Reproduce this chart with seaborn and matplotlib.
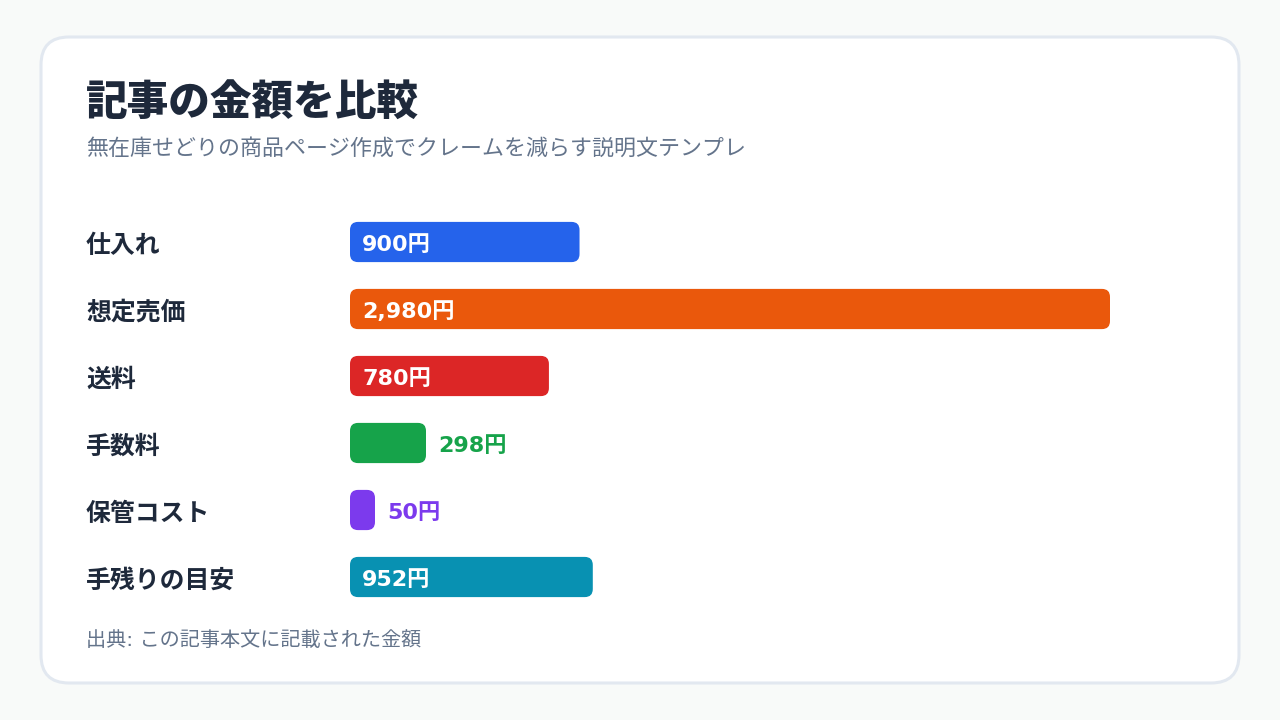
#compare the amounts mentioned in the article

import matplotlib
matplotlib.use('Agg')
import matplotlib.pyplot as plt
import seaborn as sns
from matplotlib.patches import FancyBboxPatch
from matplotlib.transforms import IdentityTransform

categories=['仕入れ','想定売価','送料','手数料','保管コスト','手残りの目安']
values=[900,2980,780,298,50,952]
value_labels=['900円','2,980円','780円','298円','50円','952円']
colors=['#2563eb','#ea580c','#dc2626','#16a34a','#7c3aed','#0891b2']

title='記事の金額を比較'
subtitle='無在庫せどりの商品ページ作成でクレームを減らす説明文テンプレ'
source='出典: この記事本文に記載された金額'

W,H=1280,720

def main():
    sns.set_style('white')
    plt.rcParams['font.family']=['DejaVu Sans','Noto Sans CJK JP']
    fig=plt.figure(figsize=(W/100,H/100),dpi=100)
    fig.patch.set_facecolor('#f8faf9')

    # card behind everything, in pixels
    card=FancyBboxPatch((41,H-683),1198,646,boxstyle='round,pad=0,rounding_size=28',
                        transform=IdentityTransform(),facecolor='white',edgecolor='#e2e8f0',linewidth=2.2,zorder=0)
    fig.patches.append(card)

    # bar area: x 350..1110 px, rows centered at 242..577 px
    left=350/W; width=760/W
    top=1-208.5/H; bottom=1-610.5/H
    ax=fig.add_axes([left,bottom,width,top-bottom])
    ax.set_zorder(5)
    ax.set_facecolor('none')
    sns.barplot(x=values,y=categories,hue=categories,palette=colors,legend=False,
                width=0.6,ax=ax,orient='h')
    ax.set_xlim(0,max(values))
    ax.set_ylim(len(categories)-0.5,-0.5)
    ax.axis('off')

    min_w=25/760*max(values)   # tiny values still get a visible pill
    for p,c in zip(list(ax.patches),colors):
        x0,y0=p.get_x(),p.get_y()
        w=max(p.get_width(),min_w); h=p.get_height()
        (px0,py0)=ax.transData.transform((x0,y0+h))
        (px1,py1)=ax.transData.transform((x0+w,y0))
        p.set_visible(False)
        fig.patches.append(FancyBboxPatch((px0,py0),px1-px0,py1-py0,
                            boxstyle='round,pad=0,rounding_size=8',transform=IdentityTransform(),
                            facecolor=c,edgecolor='none',zorder=2))

    for i,(v,lab,c) in enumerate(zip(values,value_labels,colors)):
        w=max(v,min_w)
        if v>=500:
            ax.annotate(lab,(0,i),xytext=(12,-3),textcoords='offset pixels',ha='left',va='center',
                        color='white',fontsize=16,fontweight='bold',zorder=3)
        else:
            ax.annotate(lab,(w,i),xytext=(12,-3),textcoords='offset pixels',ha='left',va='center',
                        color=c,fontsize=16,fontweight='bold',zorder=3,annotation_clip=False)
        fig.text(86/W,1-(246+i*67)/H,categories[i],ha='left',va='center',
                 fontsize=17.9,fontweight='bold',color='#1e293b')

    fig.text(86/W,1-104/H,title,ha='left',va='center',fontsize=30,fontweight='heavy',color='#1e293b')
    fig.text(86/W,1-148/H,subtitle,ha='left',va='center',fontsize=15.8,color='#64748b')
    fig.text(86/W,1-640/H,source,ha='left',va='center',fontsize=14.5,color='#64748b')

    fig.savefig('out.png',dpi=100,facecolor=fig.get_facecolor())
    plt.close(fig)


if __name__ == '__main__':
    main()
